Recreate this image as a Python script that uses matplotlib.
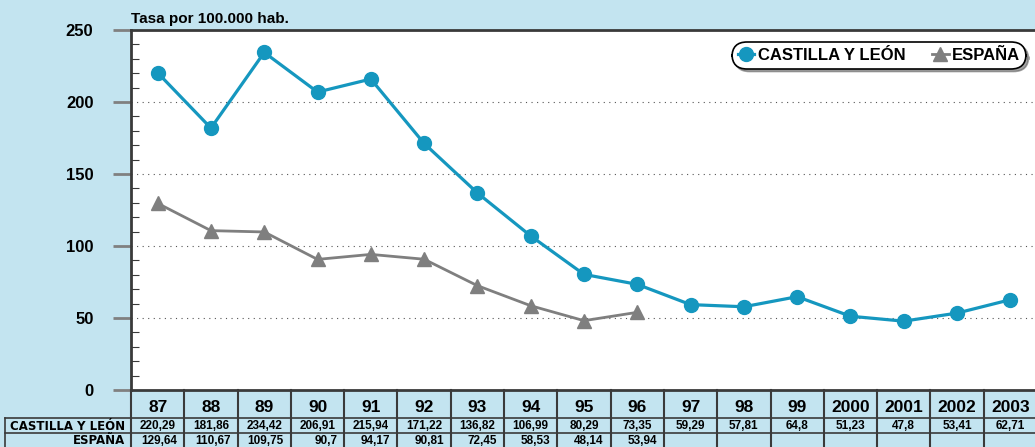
import numpy as np
import matplotlib.pyplot as plt
from matplotlib.lines import Line2D

# datos
years = ['87', '88', '89', '90', '91', '92', '93', '94', '95', '96',
         '97', '98', '99', '2000', '2001', '2002', '2003']
castilla = [220.29, 181.86, 234.42, 206.91, 215.94, 171.22, 136.82, 106.99,
            80.29, 73.35, 59.29, 57.81, 64.8, 51.23, 47.8, 53.41, 62.71]
espana = [129.64, 110.67, 109.75, 90.7, 94.17, 90.81, 72.45, 58.53, 48.14, 53.94]
castilla_txt = ['220,29', '181,86', '234,42', '206,91', '215,94', '171,22', '136,82',
                '106,99', '80,29', '73,35', '59,29', '57,81', '64,8', '51,23',
                '47,8', '53,41', '62,71']
espana_txt = ['129,64', '110,67', '109,75', '90,7', '94,17', '90,81', '72,45',
              '58,53', '48,14', '53,94']

BG = '#c3e4f0'
TEAL = '#1597bf'
GRAY = '#7f7f7f'
DARK = '#3a3a3a'
W, H = 1035, 447

plt.rcParams['font.family'] = ['Liberation Sans', 'DejaVu Sans']
plt.rcParams['font.weight'] = 'bold'

fig = plt.figure(figsize=(W / 100, H / 100), dpi=100, facecolor=BG)

left_px, right_px, top_px, bot_px = 131, 1037, 30, 390
ax = fig.add_axes([left_px / W, 1 - bot_px / H, (right_px - left_px) / W, (bot_px - top_px) / H])
ax.set_facecolor('white')
x = np.arange(len(years))

ax.plot(x, castilla, color=TEAL, lw=2.3, marker='o', ms=10, zorder=3)
ax.plot(x[:len(espana)], espana, color=GRAY, lw=2.0, marker='^', ms=10, zorder=3)

ax.set_xlim(-0.5, len(years) - 0.5)
ax.set_ylim(0, 250)
ax.set_xticks([])
ax.set_yticks(np.arange(0, 251, 50))
ax.set_yticks(np.arange(0, 251, 10), minor=True)
ax.tick_params(axis='y', which='major', direction='out', length=13, width=2,
               color='#808080', labelsize=12, pad=14)
ax.tick_params(axis='y', which='minor', direction='in', length=6, width=0.8, color=DARK)
for lbl in ax.get_yticklabels():
    lbl.set_fontweight('bold')
for v in [50, 100, 150, 200]:
    ax.axhline(v, color='#555555', lw=0.8, ls=(0, (1, 4)), zorder=1)
for s in ['left', 'bottom', 'top']:
    ax.spines[s].set_color(DARK)
    ax.spines[s].set_linewidth(2)
ax.spines['right'].set_visible(False)

ax.text(0, 1.012, 'Tasa por 100.000 hab.', transform=ax.transAxes, fontsize=11,
        fontweight='bold', ha='left', va='bottom')

handles = [Line2D([], [], color=TEAL, marker='o', ms=10, lw=2.3),
           Line2D([], [], color=GRAY, marker='^', ms=10, lw=2.0)]
leg = ax.legend(handles, ['CASTILLA Y LEÓN', 'ESPAÑA'], ncol=2, loc='upper right',
                bbox_to_anchor=(0.995, 0.985), frameon=True, fancybox=True, shadow=True,
                handlelength=1.0, handletextpad=0.2, columnspacing=1.6,
                borderpad=0.25, prop={'weight': 'bold', 'size': 12})
leg.get_frame().set_edgecolor('black')
leg.get_frame().set_linewidth(1.2)
leg.get_frame().set_boxstyle('round,pad=0.1,rounding_size=0.9')

# tabla de datos
tab = fig.add_axes([left_px / W, 0, (right_px - left_px) / W, (H - bot_px) / H])
tab.set_xlim(-0.5, len(years) - 0.5)
tab.set_ylim(H - bot_px, 0)
tab.axis('off')
unit = (right_px - left_px) / len(years)
lab_left = -0.5 - (left_px - 5) / unit
row_y = [0, 28, 43, 57]

for i in range(len(years) + 1):
    tab.plot([i - 0.5, i - 0.5], [row_y[0], row_y[3]], color=DARK, lw=1.5, clip_on=False)
for yy in row_y[1:3]:
    tab.plot([lab_left, len(years) - 0.5], [yy, yy], color=DARK, lw=1.2, clip_on=False)
tab.plot([lab_left, lab_left], [row_y[1], row_y[3]], color=DARK, lw=1.2, clip_on=False)

for i, yr in enumerate(years):
    tab.text(i, (row_y[0] + row_y[1]) / 2 + 4, yr, ha='center', va='center',
             fontsize=12.5, fontweight='bold')
    tab.text(i, (row_y[1] + row_y[2]) / 2 + 0.5, castilla_txt[i], ha='center', va='center',
             fontsize=8.5, fontweight='bold')
for i, t in enumerate(espana_txt):
    tab.text(i + 0.5 - 7 / unit, (row_y[2] + row_y[3]) / 2 + 0.5, t, ha='right', va='center',
             fontsize=8.5, fontweight='bold')

tab.text(lab_left + 5 / unit, (row_y[1] + row_y[2]) / 2 + 0.5, 'CASTILLA Y LEÓN', ha='left',
         va='center', fontsize=8.5, fontweight='bold', family='DejaVu Sans', clip_on=False)
tab.text(-0.5 - 6 / unit, (row_y[2] + row_y[3]) / 2 + 0.5, 'ESPAÑA', ha='right',
         va='center', fontsize=8.5, fontweight='bold', family='DejaVu Sans', clip_on=False)

fig.savefig('out.png', dpi=100, facecolor=BG)
